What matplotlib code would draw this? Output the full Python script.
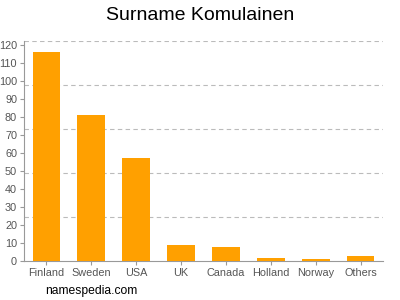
import matplotlib
matplotlib.use('Agg')
import matplotlib.pyplot as plt

plt.rcParams['font.family'] = ['Liberation Sans', 'DejaVu Sans']

countries = ['Finland', 'Sweden', 'USA', 'UK', 'Canada', 'Holland', 'Norway', 'Others']
counts = [116, 81, 57, 9, 8, 2, 1, 3]
yticks = list(range(0, 121, 10))
ytop = 122.2

fig = plt.figure(figsize=(4, 3), dpi=100)
ax = fig.add_axes([0.06, 0.129, 0.8975, 0.735])

ax.bar(range(len(countries)), counts, width=0.62, color='#ffa000', zorder=3)

# dashed grid at fifths of the axis height
for i in range(1, 6):
    ax.axhline(ytop * i / 5, color='#bbbbbb', linestyle=(0, (4, 3)), linewidth=0.8, zorder=1)

ax.set_xlim(-0.5, len(countries) - 0.5)
ax.set_ylim(0, ytop)
ax.set_yticks(yticks)
ax.set_xticks(range(len(countries)))
ax.set_xticklabels(countries)

for s in ['top', 'right']:
    ax.spines[s].set_visible(False)
for s in ['left', 'bottom']:
    ax.spines[s].set_color('#999999')
    ax.spines[s].set_linewidth(0.8)
ax.tick_params(axis='both', colors='#999999', labelcolor='#555555', labelsize=7.8, length=3, width=0.8, pad=2)

fig.text(0.5, 0.95, 'Surname Komulainen', ha='center', va='center', fontsize=14)
fig.text(0.114, 0.03, 'namespedia.com', ha='left', va='center', fontsize=8.7)

fig.savefig('out.png')
